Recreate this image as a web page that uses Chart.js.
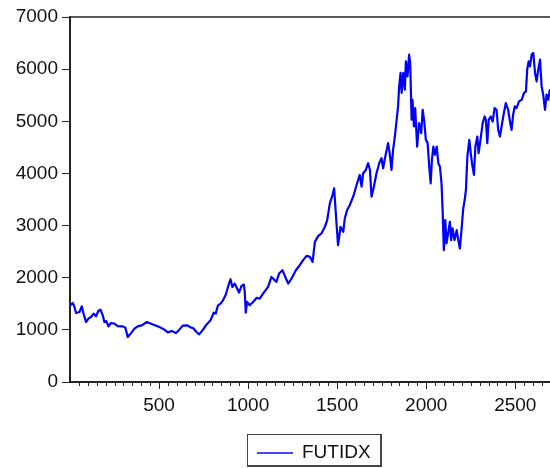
<!DOCTYPE html>
<html>
<head>
<meta charset="utf-8">
<script src="https://cdn.jsdelivr.net/npm/chart.js@4.4.1/dist/chart.umd.min.js"></script>
<style>
  html, body { margin: 0; padding: 0; background: #fff; }
  #wrap { position: relative; width: 550px; height: 468px; }
  #legend { position: absolute; left: 247px; top: 434px; width: 132px; height: 30px;
            border: 1px solid #444; border-right-width: 2px; border-bottom-width: 2px; background: #fff;
            font-family: "Liberation Sans", Arial, sans-serif; font-size: 19px; color: #111; }
  #legend .sample { position: absolute; left: 9px; top: 16.5px; width: 36px; height: 2px; background: #4646ff; }
  #legend .label { position: absolute; left: 54px; top: 0; line-height: 34px; }
</style>
</head>
<body>
<div id="wrap">
  <canvas id="c" width="550" height="468"></canvas>
  <div id="legend"><span class="sample"></span><span class="label">FUTIDX</span></div>
</div>
<script>
const seriesName = "FUTIDX";
const obs = [
  2,15,25,34,53,66,77,90,103,118,133,146,159,171,184,193,204,216,230,249,268,296,311,324,343,362,380,403,432,455,477,502,530,549,571,595,614,633,657,680,
  691,710,725,744,766,789,807,818,831,845,859,875,887,901,912,925,938,949,963,976,981,987,994,1009,1028,1047,1065,1088,1112,1131,1144,1159,1174,1193,1206,1225,1244,1268,1290,1309,1328,
  1347,1362,1375,1393,1412,1431,1444,1459,1474,1483,1493,1505,1519,1534,1543,1556,1571,1590,1609,1627,1637,1646,1661,1674,1684,1693,1706,1721,1736,
  1749,1758,1772,1786,1796,1805,1814,1824,1833,1842,1848,1856,1862,1871,1880,1886,1895,1904,1910,1918,1923,1931,1938,1949,1960,1972,1980,1989,1998,2008,2017,2025,2032,2040,2049,2059,2068,2077,2086,2092,
  2099,2107,2114,2123,2133,2140,2148,2159,2171,2180,2189,2198,2208,2216,2223,2231,2242,2250,2257,2268,2276,2287,2294,2306,2317,2328,2335,2343,2351,2362,2373,2384,2395,2404,2414,2423,2436,2447,2460,2470,2479,2488,2497,2507,2521,2536,2549,2560,2567,2575,2583,2592,2601,2611,2620,2629,2639,2648,2657,2667,2676,2685,2694
];
const futidx = [
  1471,1515,1440,1323,1342,1452,1298,1150,1215,1246,1311,1260,1362,1388,1279,1150,1169,1067,1131,1119,1073,1067,1042,862,938,1023,1067,1087,1150,1119,1087,1054,1004,952,977,938,1004,1081,1087,1042,
  1035,958,913,990,1100,1183,1331,1311,1471,1504,1567,1677,1823,1971,1823,1888,1792,1715,1842,1869,1727,1331,1535,1471,1535,1612,1600,1715,1823,2015,1971,1919,2081,2144,2035,1888,1985,2144,2240,2337,2419,
  2400,2304,2688,2798,2850,2977,3106,3427,3587,3715,3202,2625,2977,2881,3138,3298,3394,3554,3779,3971,3746,4004,4067,4196,4067,3554,3746,4004,4196,
  4292,4100,4356,4581,4356,4067,4452,4708,4996,5285,5669,5927,5542,5927,5606,6150,5862,6279,6119,5029,5413,4900,5253,4515,4965,4773,5221,4996,4644,4581,4131,3811,4260,4515,4356,4515,4196,4131,3811,3298,
  2529,3106,2658,2850,3073,2721,2946,2721,2913,2721,2560,2910,3331,3490,3683,4323,4644,4388,4196,3971,4515,4708,4388,4677,4965,5093,5029,4581,5029,5093,4996,5253,5221,4837,4708,4900,5157,5350,5221,4996,4837,5125,5285,5253,5381,5413,5542,5573,5990,6150,6054,6279,6311,5927,5765,5990,6183,5669,5510,5221,5510,5413,5600
];
const xMajorTicks = [500, 1000, 1500, 2000, 2500];
const yTicks = [0, 1000, 2000, 3000, 4000, 5000, 6000, 7000];

const FONT = '"Liberation Sans", Arial, Helvetica, sans-serif';
Chart.defaults.font.family = FONT;
Chart.defaults.font.size = 19;
Chart.defaults.color = '#111';

const points = obs.map((o, i) => ({ x: o, y: futidx[i] }));

const framePlugin = {
  id: 'frame',
  afterDraw(chart) {
    const { ctx, chartArea: a, scales } = chart;
    ctx.save();
    ctx.strokeStyle = '#222';
    ctx.lineWidth = 1.5;
    ctx.beginPath();
    ctx.moveTo(a.left, a.top);
    ctx.lineTo(a.right, a.top);
    ctx.stroke();
    const xs = scales.x;
    ctx.lineWidth = 1;
    ctx.beginPath();
    xs.ticks.forEach(t => {
      if (t.value % 500 !== 0) {
        const px = Math.round(xs.getPixelForValue(t.value)) + 0.5;
        ctx.moveTo(px, a.bottom);
        ctx.lineTo(px, a.bottom + 4);
      }
    });
    ctx.stroke();
    ctx.restore();
  }
};

new Chart(document.getElementById('c'), {
  type: 'line',
  data: {
    datasets: [{
      label: seriesName,
      data: points,
      borderColor: '#0000ff',
      borderWidth: 2.2,
      borderJoinStyle: 'round',
      borderCapStyle: 'round',
      pointRadius: 0,
      tension: 0,
      fill: false
    }]
  },
  options: {
    responsive: false,
    animation: false,
    events: [],
    layout: { padding: { top: 17, right: 0, left: 0, bottom: 46 } },
    plugins: { legend: { display: false }, tooltip: { enabled: false } },
    scales: {
      x: {
        type: 'linear',
        min: 0,
        max: 2695,
        afterFit: s => { s.height = 40; },
        ticks: {
          stepSize: 50,
          includeBounds: false,
          autoSkip: false,
          maxRotation: 0,
          padding: 5,
          color: '#111',
          callback: v => xMajorTicks.includes(v) ? String(v) : ''
        },
        grid: {
          drawOnChartArea: false,
          tickLength: 7,
          tickWidth: 1,
          tickColor: ctx => (ctx.tick && xMajorTicks.includes(ctx.tick.value)) ? '#222' : 'rgba(0,0,0,0)'
        },
        border: { display: true, color: '#222', width: 2 }
      },
      y: {
        min: 0,
        max: 7000,
        afterFit: s => { s.width = 70; },
        afterBuildTicks: s => { s.ticks = yTicks.map(v => ({ value: v })); },
        ticks: { padding: 4, color: '#111', callback: v => String(v) },
        grid: { drawOnChartArea: false, tickLength: 8, tickColor: '#222', tickWidth: 1 },
        border: { display: true, color: '#222', width: 2 }
      }
    }
  },
  plugins: [framePlugin]
});
</script>
</body>
</html>
